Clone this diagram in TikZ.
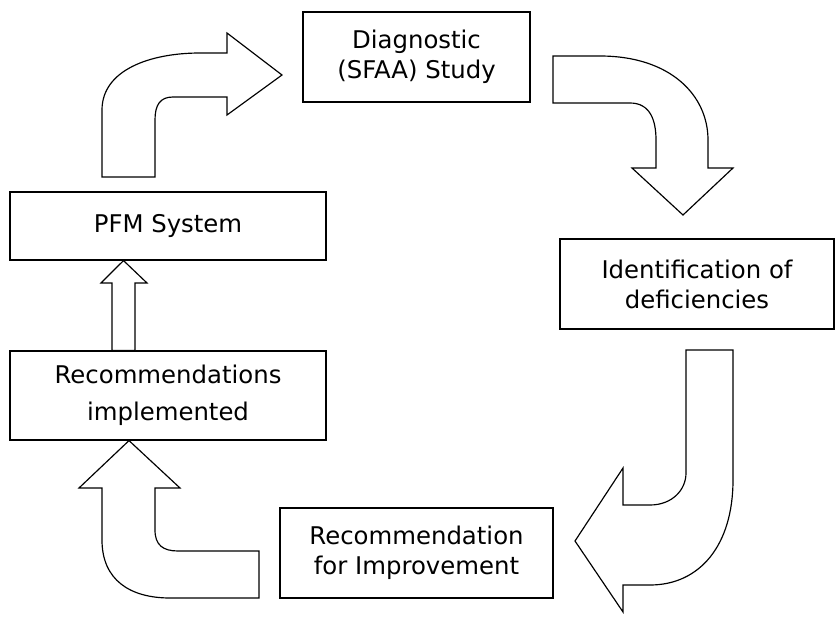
\documentclass[tikz,border=0pt]{standalone}
\usepackage{fontspec}
\setmainfont{DejaVu Sans}
\usetikzlibrary{positioning}
\tikzstyle{stage} = [rectangle, draw=black, line width=1pt, fill=white, align=center, inner sep=0pt, font=\fontsize{20.8}{25.6}\selectfont]
\tikzstyle{wide_stage} = [stage, minimum width=9.48cm]
\tikzstyle{block_arrow} = [draw=black, fill=white, line width=1pt, line join=miter]

\begin{document}
\begin{tikzpicture}[x=0.03cm, y=-0.03cm]
      \useasboundingbox (0,0) rectangle (836,619);

      %Stages
      \node (diag) [stage, minimum width=6.81cm, minimum height=2.7cm] at (416.5,57) {Diagnostic\\(SFAA) Study};
      \node (ident) [stage, minimum width=8.22cm, minimum height=2.7cm] at (697,284) {Identification of\\deficiencies};
      \node (improve) [stage, minimum width=8.19cm, minimum height=2.7cm] at (416.5,553) {Recommendation\\for Improvement};
      \node (impl) [wide_stage, minimum height=2.67cm, font=\fontsize{20.8}{31.6}\selectfont] at (168,395.5) {Recommendations\\implemented};
      \node (pfm) [wide_stage, minimum height=2.04cm] at (168,226) {PFM System};

      %PFM System -> Diagnostic
      \draw[block_arrow] (102,177) -- (102,110) .. controls (102,70) and (150,53) .. (200,53)
            -- (227,53) -- (227,33) -- (282,75) -- (227,115) -- (227,97) -- (173,97)
            .. controls (160,97) and (155,105) .. (155,120) -- (155,177) -- cycle;

      %Diagnostic -> Identification
      \draw[block_arrow] (553,56) -- (600,56) .. controls (670,56) and (708,95) .. (708,140)
            -- (708,168) -- (733,168) -- (683,215) -- (632,168) -- (656,168) -- (656,140)
            .. controls (656,120) and (650,103) .. (630,103) -- (553,103) -- cycle;

      %Identification -> Recommendation
      \draw[block_arrow] (686,350) -- (733,350) -- (733,480) .. controls (733,545) and (700,585) .. (650,585)
            -- (623,585) -- (623,612) -- (575,541) -- (623,468) -- (623,505) -- (650,505)
            .. controls (672,505) and (686,490) .. (686,473) -- cycle;

      %Recommendation -> implemented
      \draw[block_arrow] (259,598) -- (170,598) .. controls (130,598) and (102,580) .. (102,540)
            -- (102,488) -- (79,488) -- (impl.south -| 129,0) -- (180,488) -- (155,488) -- (155,530)
            .. controls (155,545) and (163,551) .. (178,551) -- (259,551) -- cycle;

      %implemented -> PFM System
      \draw[block_arrow] (impl.north -| 112,0) -- (112,283) -- (101,283) -- (pfm.south -| 123.5,0)
            -- (147,283) -- (135,283) -- (impl.north -| 135,0) -- cycle;
\end{tikzpicture}
\end{document}
